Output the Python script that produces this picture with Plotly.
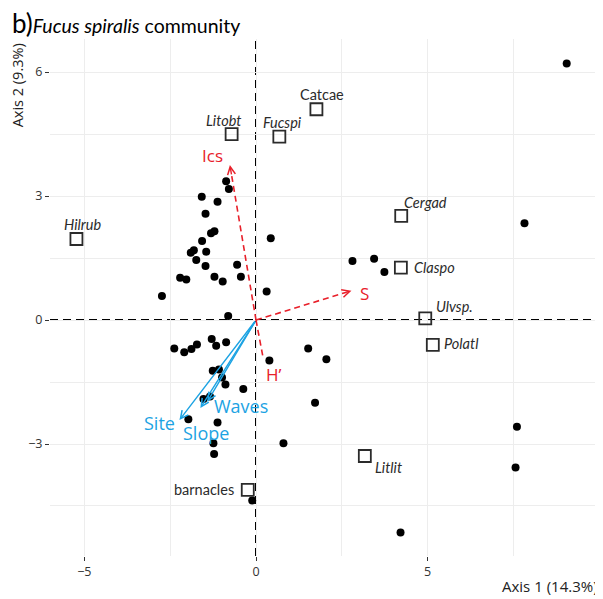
import plotly.graph_objects as go

# site scores (black dots)
site_x = [-0.87, -0.79, -1.58, -1.12, -1.47, -1.31, -1.21, 0.43, -1.57, -1.90,
          -1.81, -1.45, -1.74, -1.47, -0.55, -0.44, -2.21, -2.03, -1.21, -0.97,
          0.31, -2.74, -0.81, -2.38, -2.09, -1.88, -1.72, -1.29, -1.16, -0.87,
          0.39, -1.26, -1.08, -0.99, -0.89, -0.37, -1.53, -1.34, 1.52, 2.05,
          1.72, -1.97, -1.12, 0.80, -1.24, -1.22, -0.11, 2.81, 3.44, 3.74,
          4.21, 7.82, 9.05, 7.60, 7.56]
site_y = [3.36, 3.17, 2.98, 2.86, 2.57, 2.10, 2.15, 1.98, 1.91, 1.63,
          1.69, 1.65, 1.45, 1.31, 1.34, 1.05, 1.02, 0.98, 1.05, 0.93,
          0.69, 0.58, 0.10, -0.69, -0.78, -0.70, -0.59, -0.46, -0.62, -0.54,
          -0.98, -1.23, -1.20, -1.39, -1.56, -1.67, -1.91, -1.85, -0.69, -0.95,
          -2.00, -2.40, -2.48, -2.98, -2.98, -3.24, -4.37, 1.43, 1.48, 1.16,
          -5.14, 2.34, 6.21, -2.58, -3.57]

# species scores (open squares)
species = ["Hilrub", "Litobt", "Fucspi", "Catcae", "Cergad", "Claspo",
           "Ulvsp.", "Polatl", "Litlit", "barnacles"]
species_x = [-5.23, -0.71, 0.68, 1.76, 4.23, 4.22, 4.93, 5.15, 3.17, -0.24]
species_y = [1.96, 4.50, 4.44, 5.10, 2.52, 1.27, 0.04, -0.60, -3.29, -4.11]

# fitted diversity vectors (red dashed)
div_names = ["Ics", "S", "H\u2019"]
div_x = [-0.76, 2.78, 0.22]
div_y = [3.75, 0.71, -0.97]

# fitted environmental vectors (blue)
env_names = ["Site", "Slope", "Waves"]
env_x = [-2.23, -1.62, -1.42]
env_y = [-2.42, -2.13, -1.98]

RED = "#E8202A"
BLUE = "#1CA3E3"
LABEL_FONT = "Lato, 'Noto Sans', sans-serif"
AXIS_FONT = "'Open Sans', 'Noto Sans', sans-serif"

# label offsets in pixels (dx, dy up)
sp_off = {"Hilrub": (6, 15), "Litobt": (-8, 14), "Fucspi": (3, 14), "Catcae": (6, 15),
          "Cergad": (24, 13), "Claspo": (34, 0), "Ulvsp.": (29, 12), "Polatl": (29, 1),
          "Litlit": (24, -12), "barnacles": (-44, 0)}
upright = {"Catcae", "barnacles"}
vec_off = {"Ics": (-17, 10), "S": (13, -3), "H\u2019": (10, -14),
           "Site": (-20, -3), "Slope": (6, -25), "Waves": (34, -4)}

fig = go.Figure()

fig.add_trace(go.Scatter(
    x=site_x, y=site_y, mode="markers",
    marker=dict(color="black", size=8),
    hoverinfo="skip", showlegend=False,
))

# red dashed vectors
for n, x, y in zip(div_names, div_x, div_y):
    fig.add_trace(go.Scatter(
        x=[0, x * 0.95], y=[0, y * 0.95], mode="lines",
        line=dict(color=RED, width=1.6, dash="6px,4px"),
        hoverinfo="skip", showlegend=False,
    ))
    fig.add_annotation(x=x, y=y, ax=x * 0.93, ay=y * 0.93, xref="x", yref="y",
                       axref="x", ayref="y", showarrow=True, arrowhead=5,
                       arrowsize=1.1, arrowwidth=1.4, arrowcolor=RED, text="")
    dx, dy = vec_off[n]
    fig.add_annotation(x=x, y=y, text=n, showarrow=False, xshift=dx, yshift=dy,
                       font=dict(color=RED, size=17, family=AXIS_FONT))

# blue vectors
for n, x, y in zip(env_names, env_x, env_y):
    fig.add_annotation(x=x, y=y, ax=0, ay=0, xref="x", yref="y",
                       axref="x", ayref="y", showarrow=True, arrowhead=5,
                       arrowsize=1.1, arrowwidth=1.4, arrowcolor=BLUE, text="")
    dx, dy = vec_off[n]
    fig.add_annotation(x=x, y=y, text=n, showarrow=False, xshift=dx, yshift=dy,
                       font=dict(color=BLUE, size=18, family=AXIS_FONT))

fig.add_trace(go.Scatter(
    x=species_x, y=species_y, mode="markers",
    marker=dict(symbol="square-open", size=12, color="#2b2b2b",
                line=dict(width=1.8, color="#2b2b2b")),
    hoverinfo="skip", showlegend=False,
))
for n, x, y in zip(species, species_x, species_y):
    dx, dy = sp_off[n]
    txt = n if n in upright else "<i>" + n + "</i>"
    fig.add_annotation(x=x, y=y, text=txt, showarrow=False, xshift=dx, yshift=dy,
                       font=dict(color="#2b2b2b", size=14.5, family=LABEL_FONT))

# dashed zero lines
fig.add_shape(type="line", xref="x", yref="paper", x0=0, x1=0, y0=0, y1=1,
              line=dict(color="black", width=2, dash="8px,5px"), layer="below")
fig.add_shape(type="line", xref="paper", yref="y", x0=0, x1=1, y0=0, y1=0,
              line=dict(color="black", width=2, dash="8px,5px"), layer="below")

fig.add_annotation(xref="paper", yref="paper", x=-0.074, y=1.066,
                   xanchor="left", yanchor="top", showarrow=False,
                   text="<span style='font-size:26px'>b)</span><i>Fucus spiralis</i> community",
                   font=dict(size=19.5, color="black", family=LABEL_FONT))
fig.add_annotation(xref="paper", yref="paper", x=1.009, y=-0.058,
                   xanchor="right", yanchor="middle", showarrow=False,
                   text="Axis 1 (14.3%)", font=dict(size=15, color="#222", family=AXIS_FONT))
fig.add_annotation(xref="paper", yref="paper", x=-0.06, y=0.911,
                   xanchor="center", yanchor="middle", showarrow=False, textangle=-90,
                   text="Axis 2 (9.3%)", font=dict(size=14.5, color="#222", family=AXIS_FONT))

grid = "#EDEDED"
fig.update_xaxes(range=[-6.0, 9.874], tickmode="linear", tick0=0, dtick=5,
                 showgrid=True, gridcolor=grid, gridwidth=1, zeroline=False,
                 ticks="outside", ticklen=4, tickcolor="#333", tickwidth=1,
                 minor=dict(tick0=0, dtick=2.5, showgrid=True, gridcolor=grid, gridwidth=1),
                 tickfont=dict(size=12.5, color="#333", family=AXIS_FONT), showline=False)
fig.update_yaxes(range=[-5.71, 6.8], tickmode="linear", tick0=0, dtick=3,
                 showgrid=True, gridcolor=grid, gridwidth=1, zeroline=False,
                 ticks="outside", ticklen=4, tickcolor="#333", tickwidth=1,
                 minor=dict(tick0=0, dtick=1.5, showgrid=True, gridcolor=grid, gridwidth=1),
                 tickfont=dict(size=12.5, color="#333", family=AXIS_FONT), showline=False)

# the page body adds an 8px margin, so the figure is drawn 8px smaller
fig.update_layout(
    width=595, height=591,
    margin=dict(l=42, r=8, t=31, b=43),
    plot_bgcolor="white", paper_bgcolor="white",
    showlegend=False,
)

fig.write_html("out.html")
